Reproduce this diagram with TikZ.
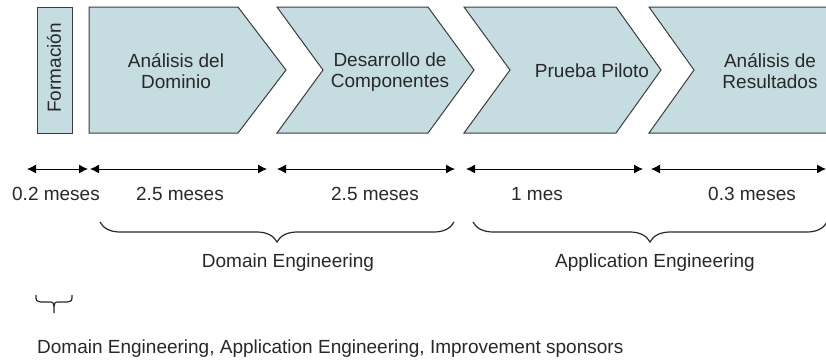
\documentclass[tikz,border=0pt]{standalone}
\usepackage{fontspec}
\setmainfont{Liberation Sans}
\usetikzlibrary{arrows.meta,decorations.pathreplacing}
\definecolor{phasefill}{RGB}{197,220,224}
\definecolor{phaseline}{RGB}{60,60,60}
\definecolor{txtgray}{RGB}{40,40,40}
\tikzset{>={Latex[length=9pt,width=9pt]}}

\begin{document}
\begin{tikzpicture}[x=1pt,y=-1pt,
  phase/.style={fill=phasefill,draw=phaseline,line width=1pt},
  lbl/.style={font=\fontsize{19}{21}\selectfont,text=txtgray,inner sep=0pt,align=center,anchor=base},
  span/.style={<->,line width=1pt,black},
  curly/.style={decorate,decoration={brace,mirror,amplitude=20pt},line width=1.2pt,txtgray}]
  \useasboundingbox (0,0) rectangle (826,360);
  \clip (0,0) rectangle (826,360);
  % Phases
  \draw[phase] (37,7) rectangle (72,133);
  \draw[phase] (89,7) -- (238,7) -- (286,70) -- (238,133) -- (89,133) -- cycle;
  \draw[phase] (277,7) -- (428,7) -- (474,70) -- (428,133) -- (277,133) -- (323,70) -- cycle;
  \draw[phase] (464,7) -- (616,7) -- (661,70) -- (616,133) -- (464,133) -- (510,70) -- cycle;
  \draw[phase] (649,7) -- (840,7) -- (840,133) -- (649,133) -- (694,70) -- cycle;
  \node[lbl,rotate=90,anchor=center] (form) at (54,68) {Formación};
  % two-line labels sit on their last baseline
  \node[lbl] (adom) at (176,88) {Análisis del\\Dominio};
  \node[lbl] (dcom) at (390,87) {Desarrollo de\\Componentes};
  \node[lbl] (ppil) at (592,77) {Prueba Piloto};
  \node[lbl] (ares) at (770,88) {Análisis de\\Resultados};
  % Durations
  \foreach \a/\b/\m/\t [count=\i] in {27/88/56/0.2 meses,90/267/180/2.5 meses,
      277/455/375/2.5 meses,466/643/537/1 mes,651/826/752/0.3 meses}{
    \coordinate (s\i) at (\a,169);
    \coordinate (e\i) at (\b,169);
    \draw[span] (s\i) -- (e\i);
    \node[lbl] (d\i) at (\m,200) {\t};
  }
  % Engineering braces
  \coordinate (dl) at (100,222);
  \coordinate (dr) at (454,222);
  \coordinate (al) at (473,222);
  \coordinate (ar) at (827,222);
  \draw[curly] (dl) -- (dr);
  \draw[curly] (al) -- (ar);
  \node[lbl] (deng) at (288,267) {Domain Engineering};
  \node[lbl] (aeng) at (655,267) {Application Engineering};
  % Sponsors
  \draw[line width=1.2pt,txtgray] (36,295) .. controls (36,301) .. (41,302) -- (49,302)
    .. controls (54,302) .. (54,313) .. controls (54,302) .. (59,302) -- (67,302)
    .. controls (72,301) .. (72,295);
  \node[lbl,anchor=base west] (spon) at (37,353) {Domain Engineering, Application Engineering, Improvement sponsors};
\end{tikzpicture}
\end{document}
